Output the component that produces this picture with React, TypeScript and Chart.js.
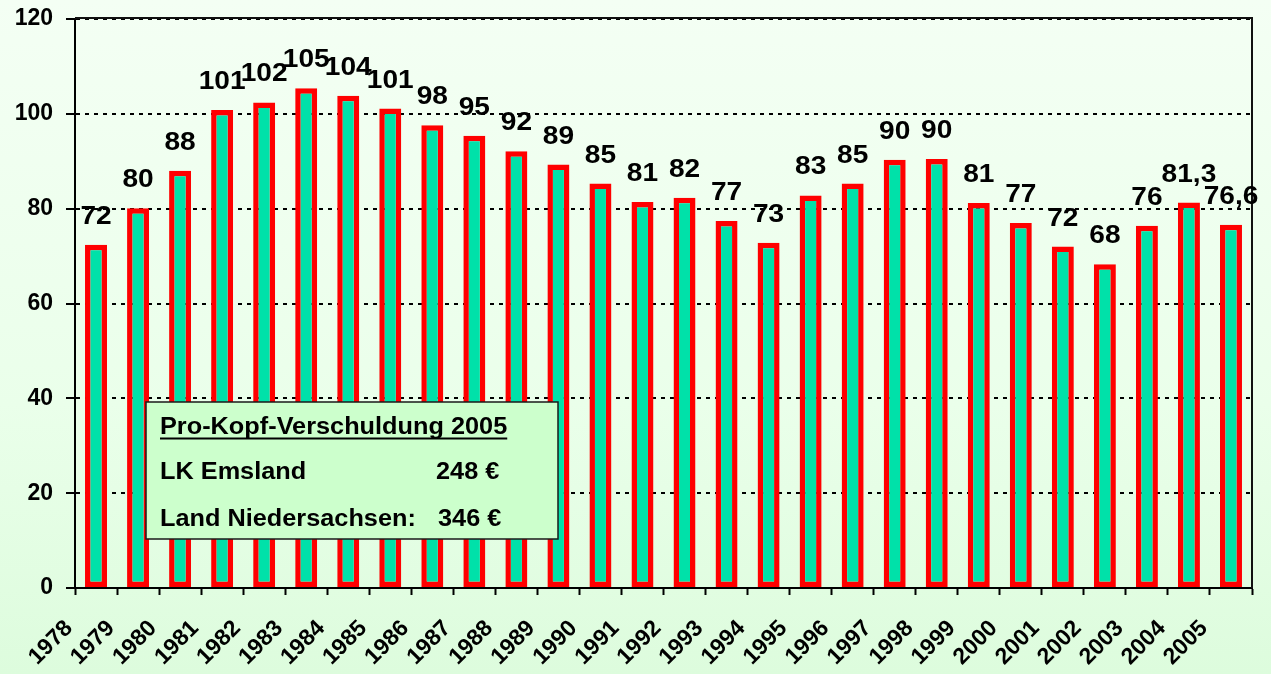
import React, { useEffect, useRef } from "react";
import { Chart, registerables } from "chart.js";

Chart.register(...registerables);

const years = [
  "1978", "1979", "1980", "1981", "1982", "1983", "1984", "1985", "1986", "1987",
  "1988", "1989", "1990", "1991", "1992", "1993", "1994", "1995", "1996", "1997",
  "1998", "1999", "2000", "2001", "2002", "2003", "2004", "2005",
];

const debtValues = [
  72.4, 80.1, 88.0, 100.8, 102.4, 105.4, 103.8, 101.1, 97.6, 95.4,
  92.1, 89.3, 85.3, 81.4, 82.3, 77.4, 72.8, 82.8, 85.3, 90.3,
  90.5, 81.2, 77.0, 72.0, 68.3, 76.4, 81.3, 76.6,
];

const valueLabels = [
  "72", "80", "88", "101", "102", "105", "104", "101", "98", "95",
  "92", "89", "85", "81", "82", "77", "73", "83", "85", "90",
  "90", "81", "77", "72", "68", "76", "81,3", "76,6",
];

const yMin = 0;
const yMax = 120;
const yStep = 20;

const boxTitle = "Pro-Kopf-Verschuldung 2005";
const boxRowNames = ["LK Emsland", "Land Niedersachsen:"];
const boxRowValues = ["248 €", "346 €"];

const FONT = "'Liberation Sans', Arial, Helvetica, sans-serif";

const framePlugin = {
  id: "frame",
  beforeDatasetsDraw(chart: any) {
    const { ctx, chartArea } = chart;
    ctx.save();
    ctx.strokeStyle = "#111";
    ctx.lineWidth = 2;
    ctx.beginPath();
    ctx.moveTo(chartArea.left, chartArea.top - 1);
    ctx.lineTo(chartArea.right, chartArea.top - 1);
    ctx.lineTo(chartArea.right, chartArea.bottom);
    ctx.stroke();
    ctx.restore();
  },
};

const valueLabelPlugin = {
  id: "valueLabels",
  afterDatasetsDraw(chart: any) {
    const { ctx } = chart;
    const meta = chart.getDatasetMeta(0);
    ctx.save();
    ctx.font = `bold 26px ${FONT}`;
    ctx.fillStyle = "#000";
    ctx.textAlign = "center";
    ctx.textBaseline = "alphabetic";
    meta.data.forEach((el: any, i: number) => {
      const { x, y } = el.getProps(["x", "y"], true);
      ctx.save();
      ctx.translate(x, y - 21);
      ctx.scale(1.08, 1);
      ctx.fillText(valueLabels[i], 0, 0);
      ctx.restore();
    });
    ctx.restore();
  },
};

const infoBoxPlugin = {
  id: "infoBox",
  afterDraw(chart: any) {
    const { ctx } = chart;
    const bx = 146, by = 402, bw = 412, bh = 137;
    const sx = 1.1;
    ctx.save();
    ctx.fillStyle = "#CCFFCC";
    ctx.fillRect(bx, by, bw, bh);
    ctx.strokeStyle = "#1a1a1a";
    ctx.lineWidth = 1.5;
    ctx.strokeRect(bx, by, bw, bh);

    ctx.fillStyle = "#000";
    ctx.font = `bold 23px ${FONT}`;
    ctx.textAlign = "left";
    ctx.textBaseline = "alphabetic";

    const drawText = (t: string, x: number, y: number) => {
      ctx.save();
      ctx.translate(x, y);
      ctx.scale(sx, 1);
      ctx.fillText(t, 0, 0);
      ctx.restore();
      return ctx.measureText(t).width * sx;
    };

    const tw = drawText(boxTitle, 160, 434);
    ctx.strokeStyle = "#000";
    ctx.lineWidth = 2;
    ctx.beginPath();
    ctx.moveTo(160, 438.5);
    ctx.lineTo(160 + tw, 438.5);
    ctx.stroke();

    drawText(boxRowNames[0], 160, 479);
    drawText(boxRowValues[0], 436, 479);
    drawText(boxRowNames[1], 160, 526);
    drawText(boxRowValues[1], 438, 526);
    ctx.restore();
  },
};

export default function App() {
  const canvasRef = useRef<HTMLCanvasElement | null>(null);

  useEffect(() => {
    document.body.style.margin = "0";
    const canvas = canvasRef.current;
    if (!canvas) return;

    const chart = new Chart(canvas, {
      type: "bar",
      data: {
        labels: years,
        datasets: [
          {
            data: debtValues,
            backgroundColor: "#00E1A9",
            borderColor: "#FF0000",
            borderWidth: 5.5,
            borderSkipped: false,
            barPercentage: 0.523,
            categoryPercentage: 1,
          },
        ],
      },
      options: {
        animation: false,
        responsive: true,
        maintainAspectRatio: false,
        layout: { padding: { top: 19, right: 19, left: 0, bottom: 0 } },
        plugins: {
          legend: { display: false },
          tooltip: { enabled: false },
          title: { display: false },
        },
        scales: {
          x: {
            type: "category",
            offset: true,
            afterFit: (scale: any) => {
              scale.height = 86;
              scale.paddingLeft = 0;
              scale.paddingRight = 0;
            },
            grid: {
              offset: true,
              drawOnChartArea: false,
              drawTicks: true,
              tickLength: 7,
              tickColor: "#000",
              tickWidth: 2,
            },
            border: { display: true, color: "#000", width: 2 },
            ticks: {
              autoSkip: false,
              maxRotation: 45,
              minRotation: 45,
              color: "#000",
              font: { family: FONT, size: 23, weight: "bold" },
              padding: 20,
              labelOffset: -27,
            },
          },
          y: {
            min: yMin,
            max: yMax,
            afterFit: (scale: any) => {
              scale.width = 75;
              scale.paddingTop = 0;
              scale.paddingBottom = 0;
            },
            grid: {
              color: "#000",
              lineWidth: 2,
              drawTicks: true,
              tickLength: 9,
              tickColor: "#000",
              tickWidth: 2,
              tickBorderDash: [],
            },
            border: { display: true, color: "#000", width: 2, dash: [4, 5] },
            ticks: {
              stepSize: yStep,
              color: "#000",
              padding: 13,
              font: { family: FONT, size: 23, weight: "bold" },
            },
          },
        },
      },
      plugins: [framePlugin, valueLabelPlugin, infoBoxPlugin],
    });

    return () => {
      chart.destroy();
    };
  }, []);

  return (
    <div
      style={{
        width: 1271,
        height: 674,
        position: "relative",
        background: "linear-gradient(180deg, #F4FFF4 0%, #EAFFEA 60%, #DDFCDD 100%)",
      }}
    >
      <canvas ref={canvasRef} />
    </div>
  );
}
